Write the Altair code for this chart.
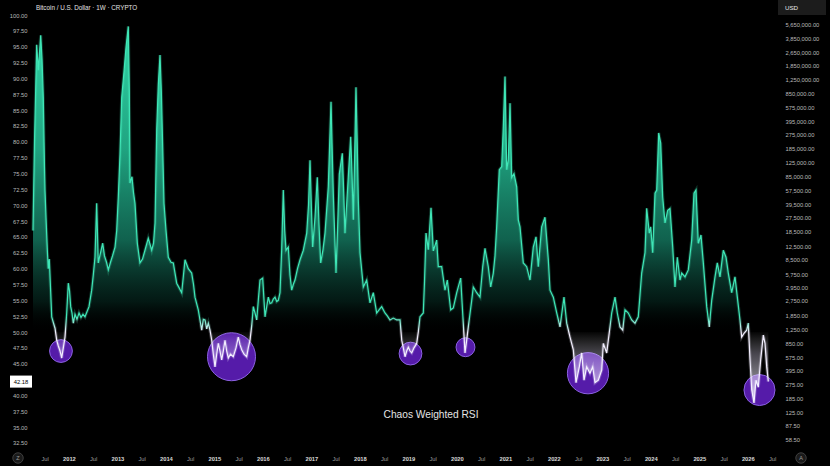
import altair as alt
import pandas as pd

# ---------------- data ----------------
t = [2011.260, 2011.291, 2011.336, 2011.369, 2011.419, 2011.446, 2011.472, 2011.497, 2011.507, 2011.528,
     2011.555, 2011.575, 2011.596, 2011.621, 2011.646, 2011.679, 2011.714, 2011.749, 2011.782, 2011.817,
     2011.852, 2011.885, 2011.920, 2011.955, 2011.988, 2012.013, 2012.037, 2012.064, 2012.091, 2012.126,
     2012.167, 2012.209, 2012.250, 2012.291, 2012.332, 2012.373, 2012.415, 2012.470, 2012.503, 2012.538,
     2012.573, 2012.606, 2012.652, 2012.697, 2012.734, 2012.776, 2012.813, 2012.858, 2012.899, 2012.951,
     2012.986, 2013.019, 2013.054, 2013.089, 2013.136, 2013.178, 2013.225, 2013.246, 2013.260, 2013.301,
     2013.332, 2013.363, 2013.411, 2013.466, 2013.518, 2013.569, 2013.637, 2013.708, 2013.745, 2013.776,
     2013.811, 2013.844, 2013.879, 2013.906, 2013.934, 2013.961, 2014.002, 2014.050, 2014.106, 2014.153,
     2014.223, 2014.271, 2014.326, 2014.363, 2014.394, 2014.462, 2014.532, 2014.570, 2014.600, 2014.668,
     2014.739, 2014.772, 2014.807, 2014.842, 2014.875, 2014.910, 2014.945, 2014.978, 2015.013, 2015.048,
     2015.081, 2015.116, 2015.151, 2015.184, 2015.219, 2015.254, 2015.287, 2015.332, 2015.390, 2015.446,
     2015.493, 2015.528, 2015.563, 2015.611, 2015.666, 2015.699, 2015.735, 2015.770, 2015.803, 2015.838,
     2015.873, 2015.906, 2015.941, 2015.996, 2016.044, 2016.079, 2016.112, 2016.147, 2016.182, 2016.215,
     2016.250, 2016.285, 2016.318, 2016.353, 2016.388, 2016.421, 2016.450, 2016.477, 2016.524, 2016.559,
     2016.594, 2016.627, 2016.662, 2016.714, 2016.766, 2016.834, 2016.904, 2016.941, 2016.972, 2016.999,
     2017.027, 2017.075, 2017.122, 2017.157, 2017.192, 2017.240, 2017.281, 2017.349, 2017.405, 2017.425,
     2017.452, 2017.508, 2017.539, 2017.576, 2017.638, 2017.667, 2017.693, 2017.761, 2017.811, 2017.838,
     2017.865, 2017.893, 2017.920, 2017.945, 2017.968, 2018.003, 2018.071, 2018.141, 2018.209, 2018.277,
     2018.347, 2018.395, 2018.450, 2018.518, 2018.570, 2018.621, 2018.689, 2018.760, 2018.828, 2018.863,
     2018.896, 2018.931, 2018.966, 2018.999, 2019.034, 2019.069, 2019.116, 2019.172, 2019.205, 2019.240,
     2019.308, 2019.333, 2019.364, 2019.411, 2019.467, 2019.514, 2019.584, 2019.617, 2019.687, 2019.755,
     2019.803, 2019.873, 2019.927, 2019.997, 2020.079, 2020.120, 2020.143, 2020.168, 2020.199, 2020.236,
     2020.306, 2020.339, 2020.409, 2020.477, 2020.533, 2020.580, 2020.648, 2020.698, 2020.751, 2020.786,
     2020.821, 2020.875, 2020.925, 2020.958, 2020.993, 2021.028, 2021.061, 2021.096, 2021.131, 2021.178,
     2021.234, 2021.267, 2021.302, 2021.370, 2021.440, 2021.508, 2021.576, 2021.632, 2021.679, 2021.749,
     2021.817, 2021.886, 2021.921, 2021.989, 2022.059, 2022.127, 2022.209, 2022.265, 2022.333, 2022.401,
     2022.457, 2022.525, 2022.574, 2022.622, 2022.677, 2022.745, 2022.801, 2022.848, 2022.917, 2022.987,
     2023.020, 2023.090, 2023.123, 2023.193, 2023.261, 2023.308, 2023.364, 2023.420, 2023.467, 2023.535,
     2023.605, 2023.673, 2023.741, 2023.811, 2023.879, 2023.914, 2023.968, 2023.997, 2024.038, 2024.086,
     2024.121, 2024.162, 2024.203, 2024.244, 2024.292, 2024.347, 2024.395, 2024.451, 2024.498, 2024.546,
     2024.601, 2024.636, 2024.704, 2024.772, 2024.842, 2024.890, 2024.931, 2024.978, 2025.034, 2025.082,
     2025.152, 2025.205, 2025.255, 2025.323, 2025.370, 2025.426, 2025.494, 2025.550, 2025.597, 2025.667,
     2025.735, 2025.783, 2025.838, 2025.873, 2025.921, 2025.976, 2026.009, 2026.045, 2026.080, 2026.127,
     2026.168, 2026.216, 2026.265, 2026.319, 2026.354, 2026.389, 2026.422]

rsi = [66.0, 80.0, 95.3, 91.3, 96.8, 93.0, 87.0, 76.0, 72.4, 68.1,
       63.0, 60.0, 61.5, 57.0, 52.4, 51.5, 50.6, 48.7, 47.8, 47.0,
       45.9, 47.5, 49.2, 53.0, 57.7, 56.5, 54.0, 53.0, 51.4, 52.8,
       52.0, 53.0, 52.3, 52.8, 52.4, 53.2, 54.0, 56.6, 59.0, 61.8,
       70.3, 60.9, 62.5, 64.0, 62.0, 61.0, 59.8, 61.0, 62.0, 63.4,
       66.0, 71.3, 78.0, 87.0, 91.0, 94.9, 98.2, 88.0, 73.5, 74.5,
       72.0, 70.3, 64.0, 60.9, 61.5, 62.9, 64.8, 62.9, 64.0, 67.2,
       81.9, 89.0, 93.7, 88.0, 79.2, 70.3, 66.1, 61.8, 61.0, 60.9,
       57.7, 57.0, 56.2, 59.0, 61.4, 60.0, 59.3, 57.5, 55.5, 53.5,
       50.3, 52.0, 51.9, 50.5, 51.4, 50.3, 48.7, 46.5, 44.5, 46.5,
       48.2, 47.0, 45.6, 47.0, 48.7, 47.0, 45.9, 46.5, 46.1, 47.5,
       49.2, 48.0, 47.2, 46.5, 46.1, 47.5, 48.7, 51.0, 54.0, 53.0,
       51.9, 55.0, 58.2, 58.5, 52.4, 54.0, 55.5, 54.5, 54.6, 55.2,
       55.5, 54.8, 55.0, 56.2, 63.0, 72.4, 66.0, 62.9, 63.4, 59.0,
       56.6, 57.5, 58.2, 60.0, 61.4, 62.9, 65.6, 70.0, 77.1, 70.0,
       63.4, 68.1, 74.4, 67.0, 60.9, 63.0, 65.6, 72.9, 86.3, 80.0,
       71.9, 59.3, 66.0, 74.9, 78.2, 72.0, 65.6, 74.4, 80.8, 75.0,
       67.7, 78.0, 88.6, 80.0, 70.8, 62.5, 57.1, 58.2, 54.6, 56.2,
       53.0, 53.5, 54.0, 53.0, 52.5, 51.9, 52.2, 51.9, 51.9, 48.7,
       47.5, 46.1, 47.0, 47.6, 47.0, 46.7, 47.5, 48.2, 50.0, 52.4,
       53.0, 58.0, 65.6, 63.0, 69.6, 62.8, 64.5, 60.3, 60.3, 56.6,
       58.2, 53.5, 53.8, 56.2, 58.5, 53.0, 50.0, 46.7, 48.5, 50.8,
       55.0, 57.1, 56.2, 55.5, 60.3, 63.2, 60.3, 57.1, 59.3, 62.0,
       66.6, 75.6, 76.1, 82.4, 90.3, 75.6, 77.1, 86.1, 74.4, 75.0,
       72.9, 67.7, 66.6, 60.9, 60.3, 58.2, 63.4, 65.0, 60.3, 66.6,
       68.1, 61.4, 56.6, 55.5, 53.0, 50.8, 55.5, 51.4, 49.2, 47.2,
       42.0, 44.5, 46.7, 42.4, 44.5, 43.5, 44.5, 42.0, 42.4, 44.0,
       48.2, 46.7, 48.7, 53.0, 55.5, 53.0, 50.8, 50.3, 53.5, 53.0,
       51.9, 51.4, 52.4, 59.3, 62.5, 69.5, 65.6, 66.6, 62.5, 71.9,
       72.4, 81.4, 79.8, 71.3, 67.2, 69.2, 69.5, 63.4, 57.1, 61.8,
       58.2, 59.3, 58.7, 59.8, 64.5, 71.9, 72.4, 64.0, 65.3, 60.9,
       54.0, 50.8, 55.0, 58.7, 60.9, 58.7, 62.9, 61.8, 59.3, 56.2,
       58.7, 55.5, 51.9, 49.2, 49.8, 50.3, 51.4, 45.6, 40.9, 38.8,
       42.4, 41.3, 45.6, 49.5, 48.2, 44.5, 42.2]

# highlighted lows: centre (date, rsi) and span in years
circle_t = [2011.837, 2015.353, 2019.044, 2020.178, 2022.704, 2026.240]
circle_v = [47.0, 46.1, 46.6, 47.6, 43.5, 40.85]
circle_span = [0.47, 0.99, 0.47, 0.39, 0.85, 0.64]

rsi_ticks = [32.5, 35.0, 37.5, 40.0, 45.0, 47.5, 50.0, 52.5, 55.0, 57.5, 60.0, 62.5, 65.0,
             67.5, 70.0, 72.5, 75.0, 77.5, 80.0, 82.5, 85.0, 87.5, 90.0, 92.5, 95.0, 97.5, 100.0]
price_ticks = [58.5, 87.5, 125, 185, 275, 395, 575, 850, 1250, 1850, 2750, 3950, 5750, 8500,
               12500, 18500, 27500, 39500, 57500, 85000, 125000, 185000, 275000, 395000, 575000,
               850000, 1250000, 1850000, 2650000, 3850000, 5650000]
x_ticks = [2011.5, 2012, 2012.5, 2013, 2013.5, 2014, 2014.5, 2015, 2015.5, 2016, 2016.5, 2017,
           2017.5, 2018, 2018.5, 2019, 2019.5, 2020, 2020.5, 2021, 2021.5, 2022, 2022.5, 2023,
           2023.5, 2024, 2024.5, 2025, 2025.5, 2026, 2026.5]
last_value = [42.18]
title_text = "Bitcoin / U.S. Dollar · 1W · CRYPTO"
indicator_name = "Chaos Weighted RSI"
currency = "USD"

# ---------------- layout ----------------
W, H = 742, 450
X_DOM = [2011.26, 2026.56]
Y_DOM = [31.39, 102.37]
P_DOM = [44.36, 1.128e7]
FONT = "Liberation Sans"

df = pd.DataFrame({"t": t, "rsi": rsi})
df["hi"] = df["rsi"].clip(lower=50)
df["lo"] = df["rsi"].clip(upper=50)
df["mid"] = 50.0

xs = alt.Scale(domain=X_DOM, nice=False, zero=False)
ys = alt.Scale(domain=Y_DOM, nice=False, zero=False)

vmax, vmin = max(rsi), min(rsi)
o50 = (vmax - 50) / (vmax - vmin)
o52 = (vmax - 52.5) / (vmax - vmin)

TEAL = "#3fe6b6"
line_grad = alt.Gradient(gradient="linear", x1=0, x2=0, y1=0, y2=1, stops=[
    alt.GradientStop(color=TEAL, offset=0),
    alt.GradientStop(color=TEAL, offset=o52),
    alt.GradientStop(color="#f3efff", offset=o50),
    alt.GradientStop(color="#f3efff", offset=1),
])
teal_fill = alt.Gradient(gradient="linear", x1=0, x2=0, y1=0, y2=1, stops=[
    alt.GradientStop(color="rgba(52,226,176,0.95)", offset=0),
    alt.GradientStop(color="rgba(36,186,146,0.88)", offset=0.4),
    alt.GradientStop(color="rgba(22,130,104,0.75)", offset=0.7),
    alt.GradientStop(color="rgba(8,55,44,0.45)", offset=0.9),
    alt.GradientStop(color="rgba(0,0,0,0)", offset=1),
])
white_fill = alt.Gradient(gradient="linear", x1=0, x2=0, y1=0, y2=1, stops=[
    alt.GradientStop(color="rgba(255,255,255,0.02)", offset=0),
    alt.GradientStop(color="rgba(235,228,255,0.30)", offset=0.3),
    alt.GradientStop(color="rgba(255,255,255,0.75)", offset=1),
])

is_year = "datum.value % 1 == 0"
x_axis = alt.Axis(
    values=x_ticks, title=None, labelFontSize=5.8, labelPadding=5, labelOverlap=False,
    labelFlush=False, labelFont=FONT, orient="bottom",
    labelExpr="datum.value % 1 == 0 ? format(datum.value, 'd') : 'Jul'",
    labelFontWeight={"condition": {"test": is_year, "value": "bold"}, "value": "normal"},
    labelColor={"condition": {"test": is_year, "value": "#d8d8d8"}, "value": "#9c9c9c"},
)
y_axis = alt.Axis(values=rsi_ticks, format=".2f", title=None, orient="left", labelFontSize=5.8,
                  labelPadding=6, labelColor="#b9b9b9", labelOverlap=False, labelFont=FONT)

X = alt.X("t:Q", scale=xs, axis=x_axis)

base = alt.Chart(df)

area_hi = base.mark_area(color=teal_fill, interpolate="linear").encode(
    x=X, y=alt.Y("hi:Q", scale=ys, axis=y_axis), y2="mid:Q",
)
area_lo = base.mark_area(color=white_fill).encode(
    x=X, y=alt.Y("lo:Q", scale=ys, axis=y_axis), y2="mid:Q",
)
glow = base.mark_line(stroke=line_grad, strokeWidth=3.2, opacity=0.22).encode(
    x=X, y=alt.Y("rsi:Q", scale=ys, axis=y_axis),
)
line = base.mark_line(stroke=line_grad, strokeWidth=1.2).encode(
    x=X, y=alt.Y("rsi:Q", scale=ys, axis=y_axis),
)

px_per_year = W / (X_DOM[1] - X_DOM[0])
circles = alt.Chart(pd.DataFrame({"t": circle_t, "v": circle_v, "span": circle_span})).mark_circle(
    color="#5a1db3", opacity=0.95, stroke="#9468ee", strokeWidth=1
).encode(
    x=X, y=alt.Y("v:Q", scale=ys, axis=y_axis),
    size=alt.Size("span:Q", scale=alt.Scale(type="pow", exponent=2, domain=[0, 1],
                                              range=[0, px_per_year ** 2]), legend=None),
)

last_df = pd.DataFrame({"v": last_value})
last_box = alt.Chart(last_df).transform_calculate(
    lo="datum.v - 0.95", hi="datum.v + 0.95"
).mark_rect(color="#ffffff").encode(
    x=alt.value(-23), x2=alt.value(-1),
    y=alt.Y("lo:Q", scale=ys, axis=y_axis), y2="hi:Q",
)
last_text = alt.Chart(last_df).mark_text(
    fontSize=5.8, color="#000000", font=FONT, align="center", baseline="middle"
).encode(
    x=alt.value(-12), y=alt.Y("v:Q", scale=ys, axis=y_axis), text=alt.Text("v:Q", format=".2f"),
)

title = alt.Chart(pd.DataFrame({"s": [title_text]})).mark_text(
    align="left", baseline="middle", fontSize=6.3, color="#e2e2e2", font=FONT
).encode(x=alt.value(3), y=alt.value(8), text="s:N")

name = alt.Chart(pd.DataFrame({"s": [indicator_name]})).mark_text(
    align="center", baseline="middle", fontSize=10.2, color="#e4e4e4", font=FONT
).encode(x=alt.value(398), y=alt.value(415), text="s:N")

usd_box = alt.Chart(pd.DataFrame({"s": [currency]})).mark_rect(color="#1c1c1c").encode(
    x=alt.value(745), x2=alt.value(793), y=alt.value(0), y2=alt.value(15)
)
usd_text = alt.Chart(pd.DataFrame({"s": [currency]})).mark_text(
    align="left", baseline="middle", fontSize=6.2, color="#e8e8e8", font=FONT
).encode(x=alt.value(752), y=alt.value(8), text="s:N")


def button(letter, px):
    d = pd.DataFrame({"s": [letter]})
    dot = alt.Chart(d).mark_point(shape="circle", size=110, filled=True, color="#1a1a1a",
                                  stroke="#4a4a4a", strokeWidth=0.8, opacity=1).encode(
        x=alt.value(px), y=alt.value(458))
    txt = alt.Chart(d).mark_text(fontSize=5.5, color="#9a9a9a", font=FONT,
                                 baseline="middle").encode(
        x=alt.value(px), y=alt.value(458), text="s:N")
    return [dot, txt]


rsi_layers = alt.layer(
    circles, area_hi, area_lo, glow, line, last_box, last_text, title, name,
    usd_box, usd_text, *button("Z", -15), *button("A", 768),
)

price_layer = alt.Chart(pd.DataFrame({"p": price_ticks})).mark_point(opacity=0).encode(
    y=alt.Y("p:Q", scale=alt.Scale(type="log", domain=P_DOM, nice=False),
            axis=alt.Axis(values=price_ticks, format=",.2f", orient="right", title=None,
                          labelFontSize=5.8, labelPadding=10, labelColor="#b9b9b9",
                          labelOverlap=False, labelFont=FONT))
)

chart = alt.layer(rsi_layers, price_layer).resolve_scale(y="independent").properties(
    width=W, height=H,
    padding={"left": 33, "right": 55, "top": 0, "bottom": 16},
    autosize=alt.AutoSizeParams(type="none"),
).configure(background="#000000").configure_view(strokeWidth=0).configure_axis(
    grid=False, domain=False, ticks=False
)

chart.save("out.html", embed_options={"renderer": "svg", "actions": False})
